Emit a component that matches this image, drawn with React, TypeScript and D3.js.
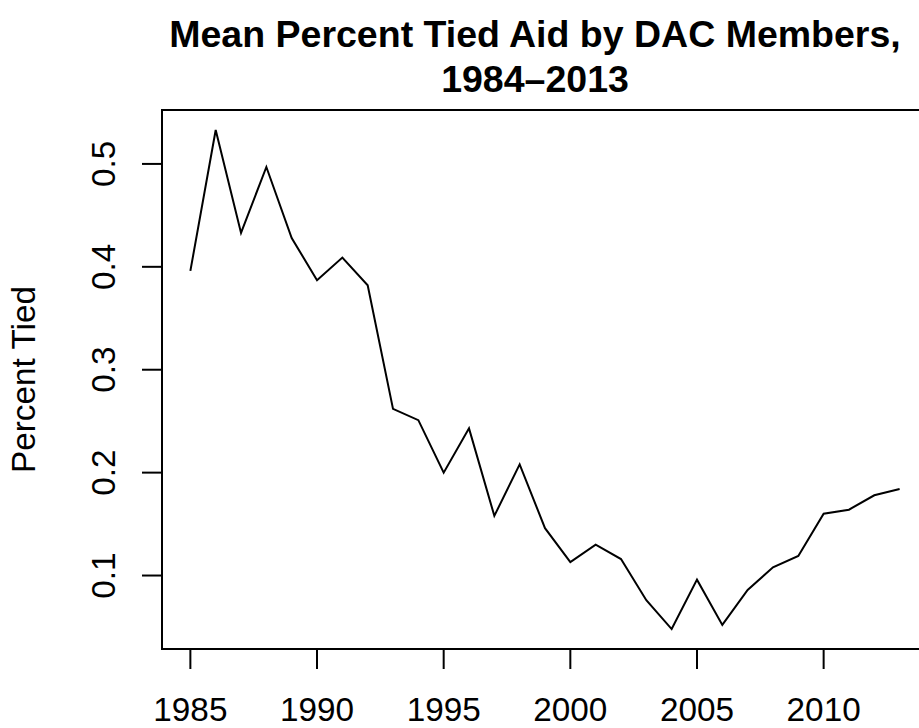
import React from "react";
import * as d3 from "d3";

// Mean share of tied aid across DAC members, by year
const years: number[] = [
  1985, 1986, 1987, 1988, 1989, 1990, 1991, 1992, 1993, 1994,
  1995, 1996, 1997, 1998, 1999, 2000, 2001, 2002, 2003, 2004,
  2005, 2006, 2007, 2008, 2009, 2010, 2011, 2012, 2013,
];
const percentTied: number[] = [
  0.396, 0.533, 0.433, 0.497, 0.428, 0.387, 0.409, 0.382, 0.262, 0.251,
  0.200, 0.243, 0.158, 0.208, 0.146, 0.113, 0.130, 0.116, 0.076, 0.048,
  0.096, 0.052, 0.086, 0.108, 0.119, 0.160, 0.164, 0.178, 0.184,
];
const xTicks: number[] = [1985, 1990, 1995, 2000, 2005, 2010];
const yTicks: number[] = [0.1, 0.2, 0.3, 0.4, 0.5];
const titleLines: string[] = ["Mean Percent Tied Aid by DAC Members,", "1984\u20132013"];
const yLabel = "Percent Tied";

const W = 919;
const H = 728;
const plot = { left: 162, right: 928, top: 110, bottom: 649 };
const FONT = "'Liberation Sans', Arial, Helvetica, sans-serif";
const BASE = 33.3; // base text size in px
const LINE = 40; // one margin line in px

// base-graphics style range: extend the data extent by 4% on each side
function padded(ext: [number, number]): [number, number] {
  const r = ext[1] - ext[0];
  return [ext[0] - 0.04 * r, ext[1] + 0.04 * r];
}

export default function App() {
  const x = d3
    .scaleLinear()
    .domain(padded(d3.extent(years) as [number, number]))
    .range([plot.left, plot.right]);
  const y = d3
    .scaleLinear()
    .domain(padded(d3.extent(percentTied) as [number, number]))
    .range([plot.bottom, plot.top]);

  const line = d3
    .line<number>()
    .x((_, i) => x(years[i]))
    .y((d) => y(d));

  const tickLen = LINE / 2;
  const titleX = 535;

  return (
    <svg
      width={W}
      height={H}
      viewBox={`0 0 ${W} ${H}`}
      style={{ position: "absolute", left: 0, top: 0, background: "#fff" }}
      fontFamily={FONT}
    >
      <rect x={0} y={0} width={W} height={H} fill="#fff" />

      {/* two-line main title */}
      {titleLines.map((t, i) => (
        <text
          key={i}
          x={titleX}
          y={47 + i * 45}
          textAnchor="middle"
          fontWeight="bold"
          fontSize={37.5}
          fill="#000"
        >
          {t}
        </text>
      ))}

      {/* series */}
      <path d={line(percentTied) ?? ""} fill="none" stroke="#000" strokeWidth={2} strokeLinejoin="miter" />

      {/* plot frame */}
      <rect
        x={plot.left}
        y={plot.top}
        width={plot.right - plot.left}
        height={plot.bottom - plot.top}
        fill="none"
        stroke="#000"
        strokeWidth={2}
      />

      {/* x axis */}
      <line x1={x(xTicks[0])} x2={x(xTicks[xTicks.length - 1])} y1={plot.bottom} y2={plot.bottom} stroke="#000" strokeWidth={2} />
      {xTicks.map((t) => (
        <g key={t}>
          <line x1={x(t)} x2={x(t)} y1={plot.bottom} y2={plot.bottom + tickLen} stroke="#000" strokeWidth={2} />
          <text x={x(t)} y={721} textAnchor="middle" fontSize={BASE} fill="#000">
            {t}
          </text>
        </g>
      ))}

      {/* y axis */}
      <line x1={plot.left} x2={plot.left} y1={y(yTicks[0])} y2={y(yTicks[yTicks.length - 1])} stroke="#000" strokeWidth={2} />
      {yTicks.map((t) => (
        <g key={t}>
          <line x1={plot.left - tickLen} x2={plot.left} y1={y(t)} y2={y(t)} stroke="#000" strokeWidth={2} />
          <text
            transform={`translate(115,${y(t)}) rotate(-90)`}
            textAnchor="middle"
            fontSize={BASE}
            fill="#000"
          >
            {d3.format(".1f")(t)}
          </text>
        </g>
      ))}

      <text
        transform={`translate(35,${(plot.top + plot.bottom) / 2}) rotate(-90)`}
        textAnchor="middle"
        fontSize={BASE}
        fill="#000"
      >
        {yLabel}
      </text>
    </svg>
  );
}
